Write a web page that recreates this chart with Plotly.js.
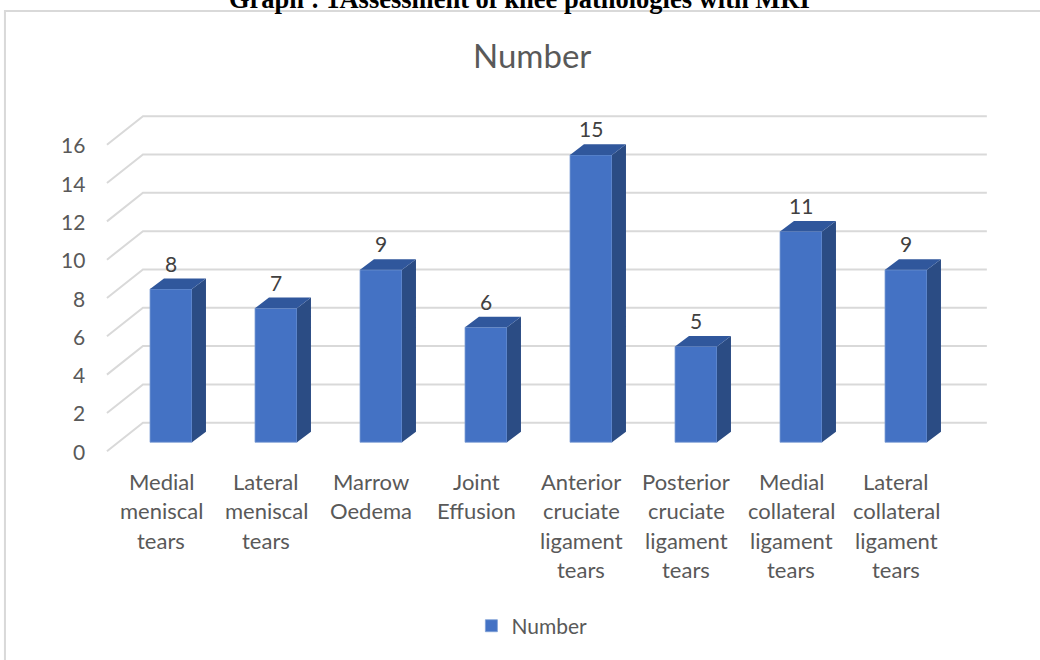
<!DOCTYPE html>
<html>
<head>
<meta charset="utf-8">
<script src="https://cdn.plot.ly/plotly-3.0.1.min.js"></script>
<style>
  html, body { margin: 0; padding: 0; background: #ffffff; }
  #chart { width: 1040px; height: 660px; }
</style>
</head>
<body>
<div id="chart"></div>
<script>
// Knee pathologies found on MRI (counts)
const categories = [
  'Medial<br>meniscal<br>tears',
  'Lateral<br>meniscal<br>tears',
  'Marrow<br>Oedema',
  'Joint<br>Effusion',
  'Anterior<br>cruciate<br>ligament<br>tears',
  'Posterior<br>cruciate<br>ligament<br>tears',
  'Medial<br>collateral<br>ligament<br>tears',
  'Lateral<br>collateral<br>ligament<br>tears'
];
const counts = [8, 7, 9, 6, 15, 5, 11, 9];
const tickValues = [0, 2, 4, 6, 8, 10, 12, 14, 16];
const seriesName = 'Number';
const caption = 'Graph : 1Assessment of knee pathologies with MRI';

// --- pseudo-3D geometry (in axis units) ---
const HALF_W = 0.2;        // half width of the front face of a column
const DEPTH_X = 0.133;     // horizontal depth offset of the column
const DEPTH_Y = 0.55;      // vertical depth offset of the column
const WALL_FRONT_X = -0.61, WALL_BACK_X = -0.267, GRID_END_X = 7.77;
const WALL_FRONT_DY = -0.47, WALL_BACK_DY = 1.02;

const FONT = 'Lato, "Open Sans", sans-serif';
const GREY = '#595959';

const xs = counts.map((_, i) => i);

// Gridlines (drawn under the columns): slanted run on the side wall, then across the back wall
const gridShapes = tickValues.map(v => ({
  type: 'path', xref: 'x', yref: 'y', layer: 'below',
  path: 'M' + WALL_FRONT_X + ',' + (v + WALL_FRONT_DY) +
        ' L' + WALL_BACK_X + ',' + (v + WALL_BACK_DY) +
        ' L' + GRID_END_X + ',' + (v + WALL_BACK_DY),
  line: { color: '#d9d9d9', width: 2 }
}));

// Side and top faces of each column
const sx = [], sy = [], tx = [], ty = [];
counts.forEach((v, i) => {
  const r = i + HALF_W, l = i - HALF_W;
  sx.push(r, r, r + DEPTH_X, r + DEPTH_X, r, null);
  sy.push(0, v, v + DEPTH_Y, DEPTH_Y, 0, null);
  tx.push(l, r, r + DEPTH_X, l + DEPTH_X, l, null);
  ty.push(v, v, v + DEPTH_Y, v + DEPTH_Y, v, null);
});

const traces = [
  {
    type: 'bar', x: xs, y: counts, width: 2 * HALF_W, name: seriesName,
    marker: { color: '#4472C4', line: { color: '#7f9fd6', width: 0.8 } },
    hoverinfo: 'y', showlegend: true
  },
  {
    type: 'scatter', mode: 'lines', x: sx, y: sy, fill: 'toself',
    fillcolor: '#2B4C84', line: { width: 0, color: '#2B4C84' },
    hoverinfo: 'skip', showlegend: false
  },
  {
    type: 'scatter', mode: 'lines', x: tx, y: ty, fill: 'toself',
    fillcolor: '#30579C', line: { width: 0, color: '#30579C' },
    hoverinfo: 'skip', showlegend: false
  }
];

const annotations = [];

// value labels above the columns
counts.forEach((v, i) => {
  annotations.push({
    x: i, y: v, xref: 'x', yref: 'y', text: String(v), showarrow: false,
    yanchor: 'middle', yshift: 26,
    font: { family: FONT, size: 21, color: '#404040' }
  });
});

// value-axis labels on the front edge of the side wall
tickValues.forEach(v => {
  annotations.push({
    x: -0.8, y: v + WALL_FRONT_DY, xref: 'x', yref: 'y', text: String(v),
    showarrow: false, xanchor: 'right', yanchor: 'middle',
    font: { family: FONT, size: 21, color: GREY }
  });
});

// category labels, one line at a time
categories.forEach((c, i) => {
  c.split('<br>').forEach((line, k) => {
    annotations.push({
      x: i, y: 0, xref: 'x', yref: 'y', text: line, showarrow: false,
      xanchor: 'center', yanchor: 'middle', xshift: -10, yshift: -(39 + 29.4 * k),
      font: { family: FONT, size: 22, color: GREY }
    });
  });
});

// chart title
annotations.push({
  x: 0.493, y: 1.143, xref: 'paper', yref: 'paper', text: seriesName,
  showarrow: false, xanchor: 'center', yanchor: 'middle',
  font: { family: FONT, size: 33, color: GREY }
});

// document caption above the chart frame
annotations.push({
  x: 0.48, y: 1.25, xref: 'paper', yref: 'paper', text: '<b>' + caption + '</b>',
  showarrow: false, xanchor: 'center', yanchor: 'bottom',
  font: { family: '"Liberation Serif", "Times New Roman", serif', size: 26.5, color: '#000000' }
});

const layout = {
  width: 1040, height: 660,
  margin: { l: 66, r: 29, t: 107, b: 189, pad: 0 },
  paper_bgcolor: '#ffffff', plot_bgcolor: 'rgba(0,0,0,0)',
  xaxis: { range: [-1, 8], visible: false, fixedrange: true },
  yaxis: { range: [-1.5, 17.5], visible: false, fixedrange: true },
  showlegend: true,
  legend: {
    orientation: 'h', x: 0.493, xanchor: 'center', y: -0.426, yanchor: 'middle',
    font: { family: FONT, size: 21, color: GREY }, bgcolor: 'rgba(0,0,0,0)'
  },
  shapes: [{
    type: 'rect', xref: 'paper', yref: 'paper',
    x0: -0.0646, x1: 1.2, y0: -1, y1: 1.2637,
    line: { color: '#d9d9d9', width: 2 }, fillcolor: 'rgba(0,0,0,0)', layer: 'below'
  }].concat(gridShapes),
  annotations: annotations,
  bargap: 0
};

Plotly.newPlot('chart', traces, layout, { staticPlot: true, displayModeBar: false });
</script>
</body>
</html>
